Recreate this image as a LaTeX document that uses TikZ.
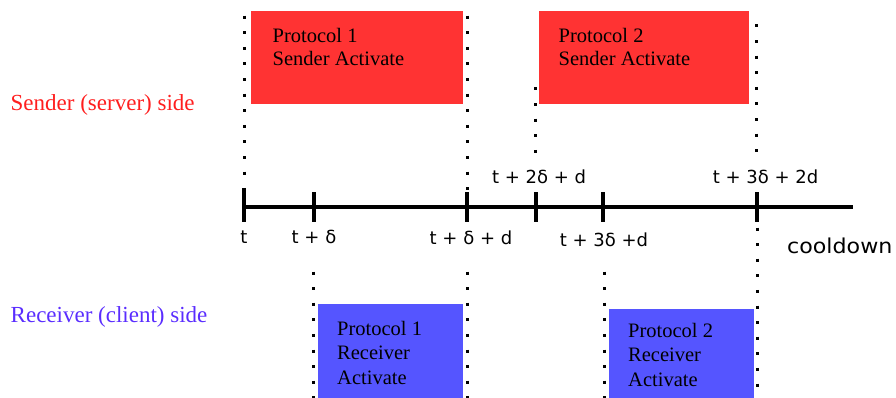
\documentclass[tikz,border=0pt]{standalone}
\usepackage{fontspec}
\usepackage{graphicx}
\setmainfont{Liberation Serif}
\newfontfamily\labelfont{DejaVu Sans}
\definecolor{senderfill}{RGB}{255,51,51}
\definecolor{receiverfill}{RGB}{85,85,255}
\definecolor{sendertext}{RGB}{255,30,30}
\definecolor{receivertext}{RGB}{90,45,255}
\begin{document}
\begin{tikzpicture}[x=1pt,y=-1pt,
  axisline/.style={line width=3.8pt},
  tickmark/.style={line width=3.4pt},
  guide/.style={line width=3pt, dash pattern=on 3pt off 12.6pt},
  phase/.style={draw=none, inner sep=0pt, anchor=north west},
  sendbox/.style={phase, fill=senderfill},
  recvbox/.style={phase, fill=receiverfill},
  boxtext/.style={anchor=north west, inner sep=0pt, align=left},
  sendtext/.style={boxtext, font=\fontsize{20.5}{22.7}\selectfont},
  recvtext/.style={boxtext, font=\fontsize{20.5}{24.5}\selectfont},
  timelabel/.style={anchor=base, inner sep=0pt, font=\labelfont\fontsize{18}{20}\selectfont},
  sidelabel/.style={anchor=base west, inner sep=0pt, font=\fontsize{23}{26}\selectfont},
]
\useasboundingbox (0,0) rectangle (896,398);

% side captions
\node[sidelabel, text=sendertext] (sendside) at (10.5,110.7) {Sender (server) side};
\node[sidelabel, text=receivertext] (recvside) at (10.5,322) {Receiver (client) side};

% activation phases
\node[sendbox, minimum width=212pt, minimum height=93pt] (s1) at (251,11) {};
\node[sendbox, minimum width=210pt, minimum height=93pt] (s2) at (539,11) {};
\node[recvbox, minimum width=145pt, minimum height=94pt] (r1) at (318,304) {};
\node[recvbox, minimum width=145pt, minimum height=89pt] (r2) at (609,309) {};

\node[sendtext] (s1txt) at ([shift={(21.5,17)}]s1.north west) {Protocol 1\\Sender Activate};
\node[sendtext] (s2txt) at ([shift={(19.5,17)}]s2.north west) {Protocol 2\\Sender Activate};
\node[recvtext] (r1txt) at ([shift={(19,17)}]r1.north west) {Protocol 1\\Receiver\\Activate};
\node[recvtext] (r2txt) at ([shift={(19,14)}]r2.north west) {Protocol 2\\Receiver\\Activate};

% time axis and its ticks
\coordinate (axstart) at (244,207);
\coordinate (axend) at (853,207);
\draw[axisline] (axstart) -- (axend);
\draw[tickmark] (244,188) -- (244,222);
\foreach \tx in {314,467,536,603,757}
  \draw[tickmark] (\tx,192) -- (\tx,222);

% tick labels
\node[timelabel] (lt)  at (244,243)   {t};
\node[timelabel] (ltd) at (314,243)   {t + δ};
\node[timelabel] (ltdd) at (471,244)  {t + δ + d};
\node[timelabel] (lt2d) at (539,183)  {t + 2δ + d};
\node[timelabel] (lt3d) at (604,246.5) {t + 3δ +d};
\node[timelabel] (lt3dd) at (765.5,183) {t + 3δ + 2d};
\node[anchor=base west, inner sep=0pt, font=\labelfont\fontsize{20.5}{23}\selectfont] (cool) at (787,253) {\scalebox{1.08}[1]{cooldown}};

% dotted guides above the axis
\draw[guide] (244,15.7) -- (244,176);
\draw[guide] (467,15.7) -- (467,191);
\draw[guide] (535.5,87.5) -- (535.5,153);
\draw[guide] (756.5,24.5) -- (756.5,153);

% dotted guides below the axis
\draw[guide] (313,271.5) -- (313,398);
\draw[guide] (467,271.5) -- (467,398);
\draw[guide] (604,271.5) -- (604,398);
\draw[guide] (757,227.5) -- (757,398);
\end{tikzpicture}
\end{document}
